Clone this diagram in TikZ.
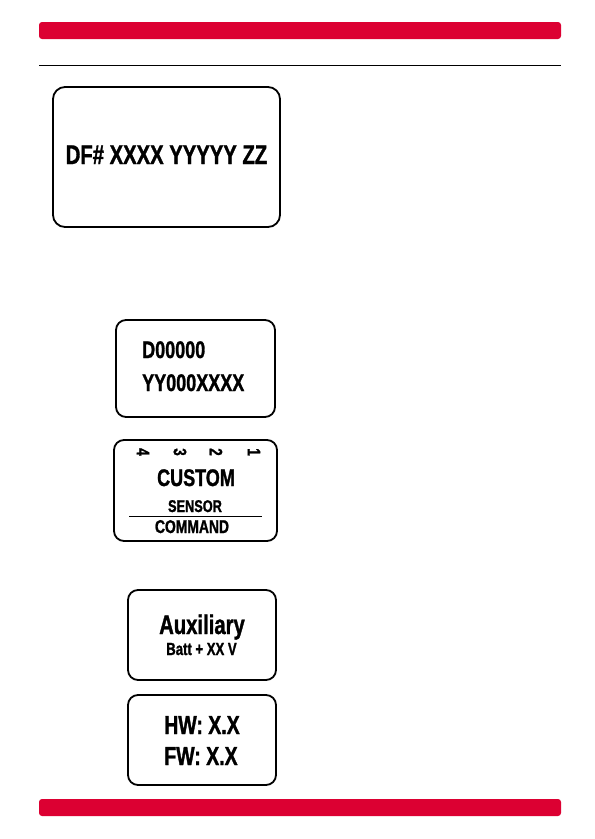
\documentclass[tikz,border=0pt]{standalone}
\usepackage{fontspec}
\usepackage{tikz}

\newfontfamily\lcdfont[FakeStretch=0.75, FakeBold=1.2]{Liberation Sans}
\definecolor{barred}{RGB}{220,0,50}
\newcommand{\lcd}[1]{\lcdfont\bfseries\fontsize{#1}{#1}\selectfont}

\tikzset{
    screen/.style={draw, line width=1.8pt, rounded corners=10pt, inner sep=0pt},
    bar/.style={fill=barred, rounded corners=3pt},
    txt/.style={inner sep=0pt, anchor=base}
}

\begin{document}
\begin{tikzpicture}[x=1pt, y=-1pt]
                \useasboundingbox (0,0) rectangle (595,839);

                % Bars
                \fill[bar] (39,22) rectangle (561,39);
                \fill[bar] (39,799) rectangle (561,816);
                \coordinate (l0) at (39,65);
                \coordinate (l1) at (561,65);
                \draw[line width=1pt] (l0)--(l1);

                % Screens
                \node[screen, rounded corners=12pt, minimum width=227pt, minimum height=140pt] (s1) at (166.5,157) {};
                \node[screen, minimum width=159pt, minimum height=97pt] (s2) at (195.5,368.5) {};
                \node[screen, minimum width=163pt, minimum height=101pt] (s3) at (195.5,490.5) {};
                \node[screen, minimum width=148pt, minimum height=90pt] (s4) at (202,635) {};
                \node[screen, minimum width=148pt, minimum height=90pt] (s5) at (202,740) {};

                % Texts
                \node[txt] (df) at (166.5,164) {\lcd{27}DF\# XXXX YYYYY ZZ};
                \node[txt, anchor=base west] (d0) at (142,358) {\lcd{24}D00000};
                \node[txt, anchor=base west] (yy) at (142,391) {\lcd{24}YY000XXXX};
                \node[rotate=-90, inner sep=0pt] (n4) at (143,452) {\lcd{18}4};
                \node[rotate=-90, inner sep=0pt] (n3) at (180,452) {\lcd{18}3};
                \node[rotate=-90, inner sep=0pt] (n2) at (216,452) {\lcd{18}2};
                \node[rotate=-90, inner sep=0pt] (n1) at (254,452) {\lcd{18}1};
                \node[txt] (cu) at (196,486) {\lcd{24}CUSTOM};
                \node[txt] (se) at (195,512) {\lcd{17}SENSOR};
                \node[txt] (co) at (192,533) {\lcd{18.5}COMMAND};
                \coordinate (m0) at (129,516);
                \coordinate (m1) at (262,516);
                \draw[line width=0.9pt] (m0)--(m1);
                \node[txt] (au) at (202,634) {\lcd{27}Auxiliary};
                \node[txt] (ba) at (201.5,655) {\lcd{17.5}Batt + XX V};
                \node[txt] (hw) at (202,734) {\lcd{26}HW: X.X};
                \node[txt] (fw) at (201,765) {\lcd{26}FW: X.X};
            \end{tikzpicture}
\end{document}
